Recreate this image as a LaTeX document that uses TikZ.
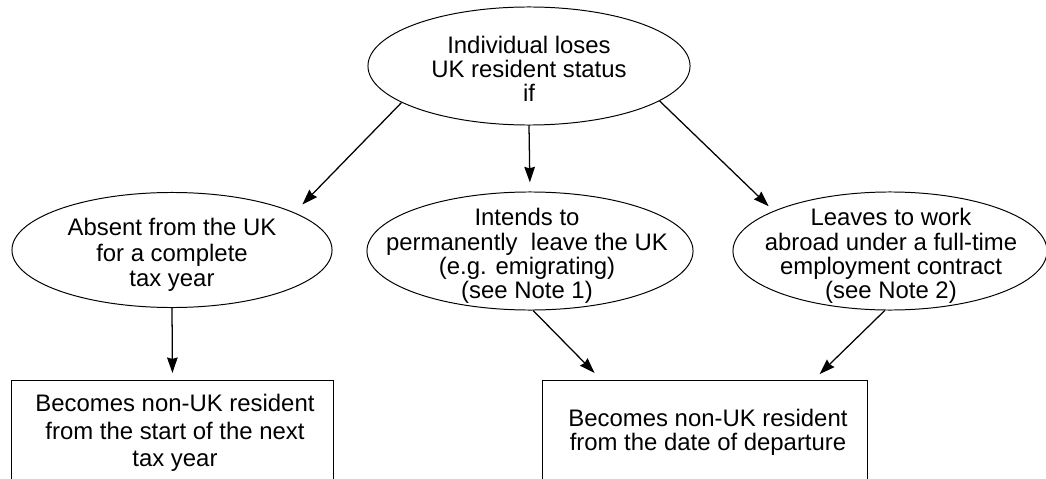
\documentclass[tikz,border=0pt]{standalone}
\usepackage{fontspec}
\setmainfont{Liberation Sans}
\usetikzlibrary{shapes.geometric,arrows.meta}

\begin{document}
\begin{tikzpicture}[x=0.025cm,y=-0.025cm,
    oval/.style={ellipse,draw,line width=0.7pt,inner sep=0pt},
    outbox/.style={rectangle,draw,line width=0.7pt,inner sep=0pt,anchor=north},
    txt/.style={align=center,inner sep=0pt,font=\fontsize{17}{17.2}\selectfont},
    arr/.style={-{Stealth[length=11pt,width=7.5pt,inset=1pt]},line width=0.9pt}] %
    \useasboundingbox (0,0) rectangle (1046,479); %
    \clip (0,0) rectangle (1046,479); %
    % ovals
    \node[oval,minimum width=8.05cm,minimum height=2.95cm] (lose) at (529,66) {}; %
    \node[txt] (lose-t) at (529,69) {Individual loses\\UK resident status\\if}; %
    \node[oval,minimum width=8cm,minimum height=2.875cm] (absent) at (172,250) {}; %
    \node[txt,font=\fontsize{17}{18.1}\selectfont] (absent-t) at (172,255) {Absent from the UK\\for a complete\\tax year}; %
    \node[oval,minimum width=8.15cm,minimum height=2.95cm] (emigr) at (530,251) {}; %
    \node[txt] (emigr-t) at (527,256) {Intends to\\permanently\ \ leave the UK\\(e.g. emigrating)\\(see Note 1)}; %
    \node[oval,minimum width=7.85cm,minimum height=2.95cm] (work) at (890,251) {}; %
    \node[txt] (work-t) at (891,256) {Leaves to work\\abroad under a full-time\\employment contract\\(see Note 2)}; %
    % boxes, cut off at the bottom
    \node[outbox,minimum width=8.025cm,minimum height=3.5cm] (nextyr) at (172.5,380) {}; %
    \node[txt,font=\fontsize{17}{19.6}\selectfont] (nextyr-t) at (175,433) {Becomes non-UK resident\\from the start of the next\\tax year}; %
    \node[outbox,minimum width=8.1cm,minimum height=3.5cm] (depart) at (705,380) {}; %
    \node[txt] (depart-t) at (708,432) {Becomes non-UK resident\\from the date of departure}; %
    % arrows
    \draw[arr,shorten >=8pt] (lose.196.8) -- (absent.17); %
    \draw[arr,shorten >=6.5pt] (lose.south) -- (emigr.north); %
    \draw[arr,shorten >=4.8pt] (lose.345.8) -- (work.161.5); %
    \draw[arr,shorten >=5pt] (absent.south) -- (nextyr.north); %
    \draw[arr,shorten >=7pt] (emigr.273) -- ([xshift=1.475cm]depart.north west); %
    \draw[arr,shorten >=6pt] (work.265) -- ([xshift=6.775cm]depart.north west); %
\end{tikzpicture}
\end{document}
